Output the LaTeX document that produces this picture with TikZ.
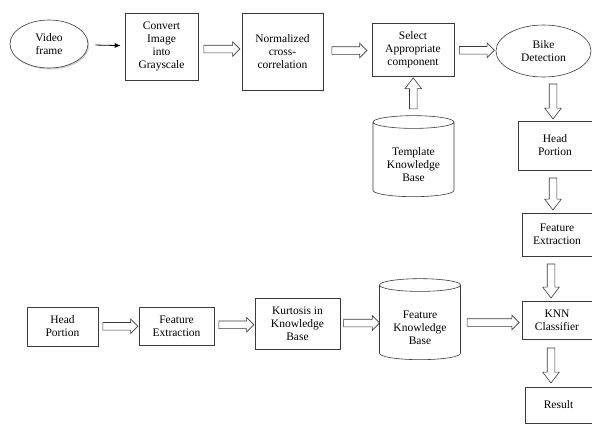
\documentclass[tikz,border=0pt]{standalone}
\usepackage{fontspec}
\setmainfont{Liberation Serif}
\usetikzlibrary{positioning, shapes.geometric, shapes.arrows, arrows.meta, shadows}
\definecolor{cline}{HTML}{3A3A3A}

\begin{document}
\begin{tikzpicture}[
  x=1pt, y=-1pt,
  every node/.append style={align=center, font=\rmfamily\fontsize{11.5}{13}\selectfont},
  stagebox/.style={
    rectangle, draw=cline, line width=0.6pt,
    inner sep=1pt
  },
  stageoval/.style={
    ellipse, draw=cline, line width=0.6pt,
    inner sep=0pt
  },
  kbase/.style={
    cylinder, shape border rotate=90, aspect=0.24,
    draw=cline, line width=0.6pt,
    minimum width=81pt, minimum height=81pt, inner sep=0pt
  },
  harrow/.style={
    single arrow, draw=cline, line width=0.6pt,
    inner sep=3.5pt, single arrow head extend=3.5pt,
    single arrow tip angle=90, minimum height=#1
  },
  harrow/.default=35pt,
  darrow/.style={harrow=#1, rotate=-90, single arrow head extend=4.5pt,
    single arrow tip angle=75},
  darrow/.default=34pt,
  uarrow/.style={harrow=#1, rotate=90, single arrow head extend=4.5pt,
    single arrow tip angle=75},
  uarrow/.default=31pt,
  linkarrow/.style={
    draw=black, line width=0.8pt,
    -{Latex[length=6pt, width=5pt]},
    shorten <=7pt, shorten >=4pt
  }
]
\useasboundingbox (0,0) rectangle (592,424);

% top row
\node[stageoval, minimum width=78pt, minimum height=48pt,
  drop shadow={opacity=0.35, shadow xshift=1.2pt, shadow yshift=-1.5pt}, fill=white]
  (vid) at (49,44) {Video\\frame};
\node[stagebox, minimum width=73pt, minimum height=67pt] (gray) at (161.5,46.5)
  {Convert\\Image\\into\\Grayscale};
\node[stagebox, minimum width=81pt, minimum height=77pt] (ncc) at (282.5,51.5)
  {Normalized\\cross-\\correlation};
\node[stagebox, minimum width=82pt, minimum height=53pt] (sel) at (413,49.5)
  {Select\\Appropriate\\component};
\node[stageoval, minimum width=95pt, minimum height=52pt] (bike) at (543.5,51)
  {Bike\\Detection};
\node[kbase] (tkb) at (413.5,159.5)
  {\begin{tabular}{@{}c@{}}\rule{0pt}{21pt}Template\\Knowledge\\Base\end{tabular}};

% right column
\node[stagebox, minimum width=74pt, minimum height=49pt] (head1) at (555,145.5)
  {Head\\Portion};
\node[stagebox, minimum width=70pt, minimum height=43pt] (fe1) at (557,234.5)
  {Feature\\Extraction};
\node[stagebox, minimum width=70pt, minimum height=38pt] (knn) at (557,320)
  {KNN\\Classifier};
\node[stagebox, minimum width=67pt, minimum height=36pt] (res) at (558.5,405)
  {Result};

% bottom row
\node[stagebox, minimum width=71pt, minimum height=39pt] (head2) at (62.5,326.5)
  {Head\\Portion};
\node[stagebox, minimum width=75pt, minimum height=38pt] (fe2) at (176.5,326)
  {Feature\\Extraction};
\node[stagebox, minimum width=85pt, minimum height=51pt] (kurt) at (297.5,323.5)
  {Kurtosis in\\Knowledge\\Base};
\node[kbase] (fkb) at (420,322.5)
  {\begin{tabular}{@{}c@{}}\rule{0pt}{21pt}Feature\\Knowledge\\Base\end{tabular}};

% links
\draw[linkarrow] (vid) -- (gray);
\path (gray.east) -- node[harrow=36pt] {} (ncc.west);
\path (ncc.east) -- node[harrow] {} (sel.west);
\path (sel.east) -- node[harrow] {} (bike.west);
\path (tkb.top) -- node[uarrow] {} (sel.south);
\path ([xshift=-2pt]bike.south -| head1.north) -- node[darrow=35pt] {} ([xshift=-2pt]head1.north);
\path ([xshift=-2pt]head1.south) -- node[darrow=32pt] {} ([xshift=-2pt]head1.south |- fe1.north);
\path ([xshift=-6pt]fe1.south) -- node[darrow] {} ([xshift=-6pt]fe1.south |- knn.north);
\path ([xshift=-6pt]knn.south) -- node[darrow=35pt] {} ([xshift=-6pt]knn.south |- res.north);
\path (head2.east) -- node[harrow] {} (fe2.west);
\path (fe2.east) -- node[harrow] {} (kurt.west);
\path (kurt.east) -- node[harrow=36pt] {} (fkb.west);
\path (fkb.east) -- node[harrow=52pt] {} (knn.west |- fkb.east);

\end{tikzpicture}
\end{document}
